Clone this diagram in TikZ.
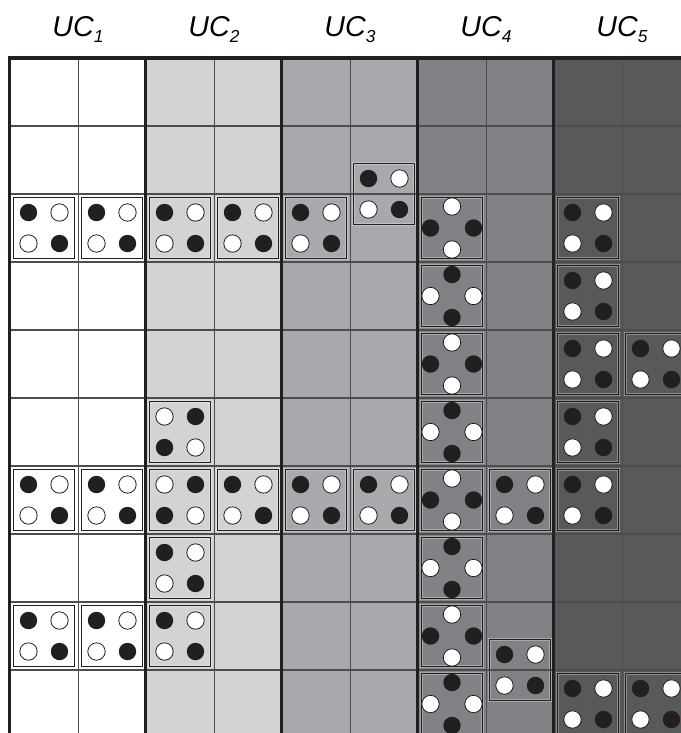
\documentclass[tikz,border=0pt]{standalone}
\usepackage{fontspec}
\setmainfont{Liberation Sans}

\definecolor{inkdark}{HTML}{231F20}
\definecolor{ucone}{HTML}{FFFFFF}
\definecolor{uctwo}{HTML}{D1D3D4}
\definecolor{ucthree}{HTML}{A7A9AC}
\definecolor{ucfour}{HTML}{808285}
\definecolor{ucfive}{HTML}{58595B}
\definecolor{rowgray}{HTML}{4D4D4F}

\tikzset{
  blackdot/.style={fill=inkdark},
  whitedot/.style={fill=white, draw=inkdark, line width=0.6pt},
  diebox/.style={draw=inkdark, line width=0.7pt},
  diehalo/.style={draw=white, opacity=0.3, line width=2pt},
  rowline/.style={draw=rowgray, line width=1.2pt},
  colline/.style={draw=rowgray, line width=0.75pt},
  groupline/.style={draw=inkdark, line width=2.5pt},
  uclabel/.style={anchor=base, inner sep=0pt, font=\fontsize{21.5}{24}\selectfont\itshape}
}

% die with four dots in a square: centre x, centre y, style of top-left/bottom-right, style of the other two
\newcommand{\squaredie}[4]{%
  \begin{scope}[shift={(#1,#2)}]
    \draw[diehalo] (-30.75,-30.75) rectangle (30.75,30.75);
    \draw[diebox] (-30.75,-30.75) rectangle (30.75,30.75);
    \path[#3] (-15.5,-15.5) circle (8.7) (15.5,15.5) circle (8.7);
    \path[#4] (15.5,-15.5) circle (8.7) (-15.5,15.5) circle (8.7);
  \end{scope}}

% die with four dots in a diamond: centre x, centre y, style of top/bottom, style of left/right
\newcommand{\diamonddie}[4]{%
  \begin{scope}[shift={(#1,#2)}]
    \draw[diehalo] (-30.75,-30.75) rectangle (30.75,30.75);
    \draw[diebox] (-30.75,-30.75) rectangle (30.75,30.75);
    \path[#3] (0,-21.5) circle (8.7) (0,21.5) circle (8.7);
    \path[#4] (-21.5,0) circle (8.7) (21.5,0) circle (8.7);
  \end{scope}}

\begin{document}
\begin{tikzpicture}[x=0.75pt,y=-0.75pt]
  \useasboundingbox (0,0) rectangle (681,733);
  \clip (0,0) rectangle (681,733);

  % column groups
  \foreach \g/\col in {0/ucone,1/uctwo,2/ucthree,3/ucfour,4/ucfive}
    \fill[\col] ({10+136*\g},58) rectangle ({146+136*\g},740);

  % dice
  \foreach \c/\r in {0/2,1/2,2/2,3/2,4/2,8/2,8/3,8/4,9/4,8/5,0/6,1/6,3/6,4/6,5/6,7/6,8/6,2/7,0/8,1/8,2/8,8/9,9/9,5/1.5,7/8.5}
    \squaredie{44+68*\c}{92+68*\r}{blackdot}{whitedot};
  \foreach \c/\r in {2/5,2/6}
    \squaredie{44+68*\c}{92+68*\r}{whitedot}{blackdot};
  \foreach \r in {2,4,6,8}
    \diamonddie{452}{92+68*\r}{whitedot}{blackdot};
  \foreach \r in {3,5,7,9}
    \diamonddie{452}{92+68*\r}{blackdot}{whitedot};

  % grid
  \foreach \r in {1,...,10}
    \draw[rowline] (10,{58+68*\r}) -- (681,{58+68*\r});
  \foreach \g in {0,...,4}
    \draw[colline] ({78+136*\g},58) -- ({78+136*\g},740);
  \foreach \g in {0,...,4}
    \draw[groupline] ({9.5+136*\g},56.5) -- ({9.5+136*\g},740);
  \draw[groupline] (8.2,58) -- (681,58);

  % labels
  \foreach \g in {1,...,5}
    \node[uclabel] (uc\g) at ({78+136*(\g-1)},36.7) {UC\raisebox{-4.5pt}{\fontsize{13}{13}\selectfont\g}};
\end{tikzpicture}
\end{document}
